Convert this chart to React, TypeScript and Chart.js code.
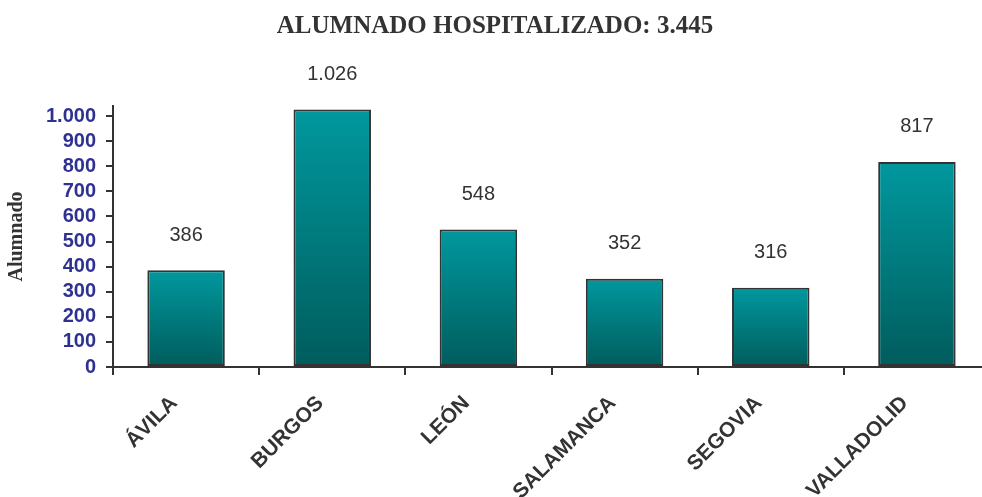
import React, { useEffect, useRef } from "react";
import { Chart, registerables } from "chart.js";

Chart.register(...registerables);

const TITLE = "ALUMNADO HOSPITALIZADO: 3.445";
const Y_TITLE = "Alumnado";
const CATEGORIES = ["ÁVILA", "BURGOS", "LEÓN", "SALAMANCA", "SEGOVIA", "VALLADOLID"];
const VALUES = [386, 1026, 548, 352, 316, 817];
const Y_TICKS = [0, 100, 200, 300, 400, 500, 600, 700, 800, 900, 1000];
const Y_MAX = 1040;

const fmt = (v: number) => String(Math.round(v)).replace(/\B(?=(\d{3})+(?!\d))/g, ".");

const valueLabels = {
  id: "valueLabels",
  afterDatasetsDraw(chart: any) {
    const ctx = chart.ctx;
    const meta = chart.getDatasetMeta(0);
    ctx.save();
    ctx.font = "20px 'Liberation Sans', Arial, sans-serif";
    ctx.fillStyle = "#333333";
    ctx.textAlign = "center";
    ctx.textBaseline = "middle";
    meta.data.forEach((bar: any, i: number) => {
      ctx.fillText(fmt(VALUES[i]), bar.x, bar.y - 35);
    });
    ctx.restore();
  },
};

export default function App() {
  const ref = useRef<HTMLCanvasElement>(null);
  useEffect(() => {
    if (!ref.current) return;
    const chart = new Chart(ref.current, {
      type: "bar",
      data: {
        labels: CATEGORIES,
        datasets: [
          {
            data: VALUES,
            backgroundColor: (c: any) => {
              const ch = c.chart;
              const ys = ch.scales && ch.scales.y;
              if (!ys || c.raw === undefined) return "#00808a";
              const top = ys.getPixelForValue(c.raw);
              const bottom = ys.getPixelForValue(0);
              if (!isFinite(top) || !isFinite(bottom) || top === bottom) return "#00808a";
              const g = ch.ctx.createLinearGradient(0, top, 0, bottom);
              g.addColorStop(0, "#00989e");
              g.addColorStop(1, "#005c5c");
              return g;
            },
            borderColor: "#333333",
            borderWidth: 2,
            borderSkipped: false,
            barPercentage: 0.53,
            categoryPercentage: 1,
          },
        ],
      },
      options: {
        responsive: false,
        animation: false,
        layout: { padding: { left: 0, right: 0, top: 0, bottom: 0 } },
        plugins: {
          legend: { display: false },
          tooltip: { enabled: false },
          title: {
            display: true,
            text: TITLE,
            color: "#333333",
            font: { family: "'Liberation Serif', 'Times New Roman', serif", size: 25, weight: "bold" },
            padding: { top: 12, bottom: 64 },
          },
        },
        scales: {
          x: {
            offset: true,
            grid: {
              offset: true,
              drawOnChartArea: false,
              drawTicks: true,
              tickLength: 8,
              color: "#333333",
              lineWidth: 2,
            },
            border: { color: "#333333", width: 2 },
            ticks: {
              maxRotation: 45,
              minRotation: 45,
              autoSkip: false,
              padding: 16,
              labelOffset: -12,
              color: "#333333",
              font: { family: "'Liberation Sans', Arial, sans-serif", size: 21, weight: "bold" },
            },
            afterFit: (s: any) => {
              s.height = 130;
            },
          },
          y: {
            min: 0,
            max: Y_MAX,
            grid: {
              drawOnChartArea: false,
              drawTicks: true,
              tickLength: 7,
              color: "#333333",
              lineWidth: 2,
            },
            border: { color: "#333333", width: 2 },
            ticks: {
              autoSkip: false,
              padding: 10,
              color: "#2e3192",
              font: { family: "'Liberation Sans', Arial, sans-serif", size: 20, weight: "bold" },
              callback: (v: any) => fmt(Number(v)),
            },
            afterBuildTicks: (s: any) => {
              s.ticks = Y_TICKS.map((v) => ({ value: v }));
            },
            title: {
              display: true,
              text: Y_TITLE,
              color: "#333333",
              font: { family: "'Liberation Serif', 'Times New Roman', serif", size: 20, weight: "bold" },
              padding: { top: 5, bottom: 0 },
            },
            afterFit: (s: any) => {
              s.width = 113;
            },
          },
        },
      },
      plugins: [valueLabels],
    });
    return () => chart.destroy();
  }, []);

  return (
    <div style={{ position: "fixed", left: 0, top: 0, width: 982, height: 497, overflow: "hidden", background: "#fff" }}>
      <canvas ref={ref} width={990} height={497} style={{ display: "block", width: 990, height: 497 }} />
    </div>
  );
}
